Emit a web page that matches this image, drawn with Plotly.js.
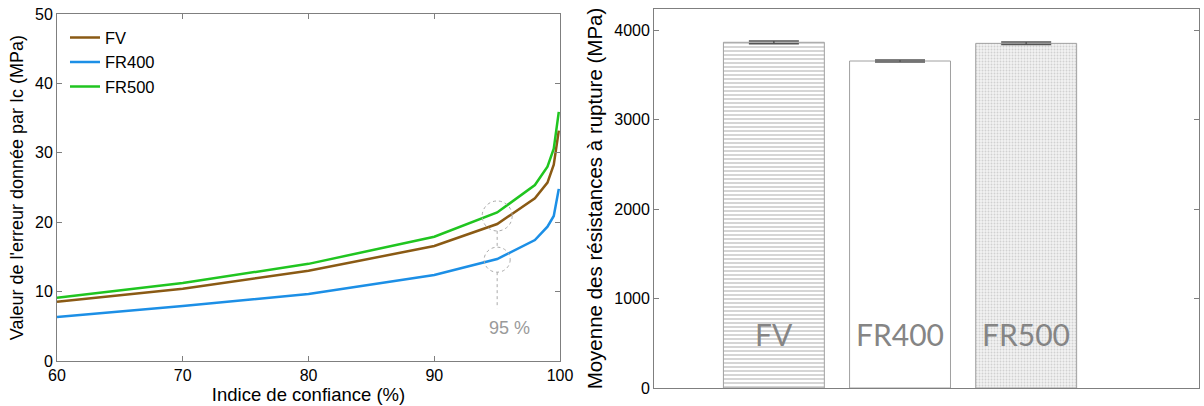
<!DOCTYPE html>
<html>
<head>
<meta charset="utf-8">
<script src="https://cdn.plot.ly/plotly-3.0.1.min.js"></script>
<style>html,body{margin:0;padding:0;background:#fff;}#chart{width:1204px;height:406px;}</style>
</head>
<body>
<div id="chart"></div>
<script>
// Left panel: error value vs confidence index
const confidence = [60, 70, 80, 90, 95, 98, 99, 99.5, 99.9];
const errFV    = [8.55, 10.42, 13.0, 16.57, 19.74, 23.44, 25.7, 28.3, 33.2];
const errFR400 = [6.34, 7.92, 9.65, 12.39, 14.7, 17.43, 19.35, 20.9, 24.8];
const errFR500 = [9.12, 11.24, 14.0, 17.9, 21.4, 25.36, 28.0, 30.6, 35.9];
const seriesNames = ['FV', 'FR400', 'FR500'];

// Right panel: mean rupture strength
const barCategories = ['FV', 'FR400', 'FR500'];
const barPositions = [1, 2, 3];
const meanStrength = [3863, 3654, 3851];
const strengthErr = [15, 12, 14];

const xTicks = [60, 70, 80, 90, 100];
const yTicksLeft = [0, 10, 20, 30, 40, 50];
const yTicksRight = [0, 1000, 2000, 3000, 4000];

const colors = ['#8a5a14', '#1c8fe6', '#20c520'];
const lineData = [errFV, errFR400, errFR500];

const FONT = 'Liberation Sans, Arial, sans-serif';

const traces = lineData.map((ys, i) => ({
  x: confidence, y: ys, name: seriesNames[i], type: 'scatter', mode: 'lines',
  line: {color: colors[i], width: 2.5}, xaxis: 'x', yaxis: 'y', hoverinfo: 'none'
}));

const patterns = [
  {shape: '-', fgcolor: '#c4c4c4', bgcolor: '#ffffff', size: 4, solidity: 0.35},
  {shape: '', bgcolor: '#ffffff'},
  {shape: '.', fgcolor: '#d0d0d0', bgcolor: '#f3f3f3', size: 3, solidity: 0.3}
];

barCategories.forEach((c, i) => {
  traces.push({
    x: [barPositions[i]], y: [meanStrength[i]], type: 'bar', showlegend: false,
    width: 0.8, xaxis: 'x2', yaxis: 'y2', hoverinfo: 'none',
    marker: {color: '#ffffff', pattern: patterns[i], line: {color: '#a0a0a0', width: 1}},
    error_y: {type: 'data', array: [strengthErr[i]], visible: true, color: '#555555', thickness: 1.5, width: 25}
  });
});

const annotations = barCategories.map((c, i) => ({
  x: barPositions[i], y: 0, xref: 'x2', yref: 'y2', text: c, showarrow: false,
  yanchor: 'bottom', yshift: 34, font: {family: 'Lato, sans-serif', size: 30, color: '#858585'}
}));
annotations.push({
  x: 96, y: 4.75, xref: 'x', yref: 'y', text: '95 %', showarrow: false,
  font: {family: FONT, size: 18, color: '#9a9a9a'}
});

const dotted = {color: '#aaaaaa', width: 1, dash: 'dot'};
const shapes = [
  {type: 'circle', xref: 'x', yref: 'y', xsizemode: 'pixel', ysizemode: 'pixel',
   xanchor: 95, yanchor: 20.9, x0: -15, x1: 15, y0: -15, y1: 15, line: dotted},
  {type: 'circle', xref: 'x', yref: 'y', xsizemode: 'pixel', ysizemode: 'pixel',
   xanchor: 95, yanchor: 14.6, x0: -13, x1: 13, y0: -12.5, y1: 12.5, line: dotted},
  {type: 'line', xref: 'x', yref: 'y', x0: 95, x1: 95, y0: 18.75, y1: 16.4, line: dotted},
  {type: 'line', xref: 'x', yref: 'y', x0: 95, x1: 95, y0: 12.8, y1: 7.6, line: dotted}
];

const axisCommon = {
  showline: true, linecolor: '#7f7f7f', linewidth: 1, mirror: 'ticks',
  ticks: 'inside', ticklen: 5, tickcolor: '#7f7f7f', showgrid: false, zeroline: false,
  tickfont: {family: FONT, size: 16, color: '#000'}
};

const layout = {
  width: 1204, height: 406,
  margin: {l: 57, r: 5, t: 9, b: 18},
  paper_bgcolor: '#ffffff', plot_bgcolor: '#ffffff',
  font: {family: FONT, color: '#000'},
  showlegend: true,
  legend: {x: 0.007, y: 0.97, xanchor: 'left', yanchor: 'top', bgcolor: 'rgba(0,0,0,0)',
           font: {family: FONT, size: 16.5, color: '#000'}, tracegroupgap: 0, itemwidth: 30},
  xaxis: Object.assign({}, axisCommon, {
    domain: [0, 0.4405], range: [60, 100], tickvals: xTicks, anchor: 'y',
    title: {text: 'Indice de confiance (%)', font: {family: FONT, size: 18.5}, standoff: 2}
  }),
  yaxis: Object.assign({}, axisCommon, {
    domain: [0.0712, 0.9868], range: [0, 50], tickvals: yTicksLeft, anchor: 'x',
    title: {text: "Valeur de l'erreur donnée par Ic (MPa)", font: {family: FONT, size: 18}, standoff: 6}
  }),
  xaxis2: Object.assign({}, axisCommon, {
    domain: [0.5228, 1], range: [0.05, 4.37], showticklabels: false, ticks: '', anchor: 'y2'
  }),
  yaxis2: Object.assign({}, axisCommon, {
    domain: [0, 1], range: [0, 4235], tickvals: yTicksRight, anchor: 'x2',
    title: {text: 'Moyenne des résistances à rupture (MPa)', font: {family: FONT, size: 20.5}, standoff: 6}
  }),
  annotations: annotations,
  shapes: shapes
};

Plotly.newPlot('chart', traces, layout, {staticPlot: true, displayModeBar: false});
</script>
</body>
</html>
